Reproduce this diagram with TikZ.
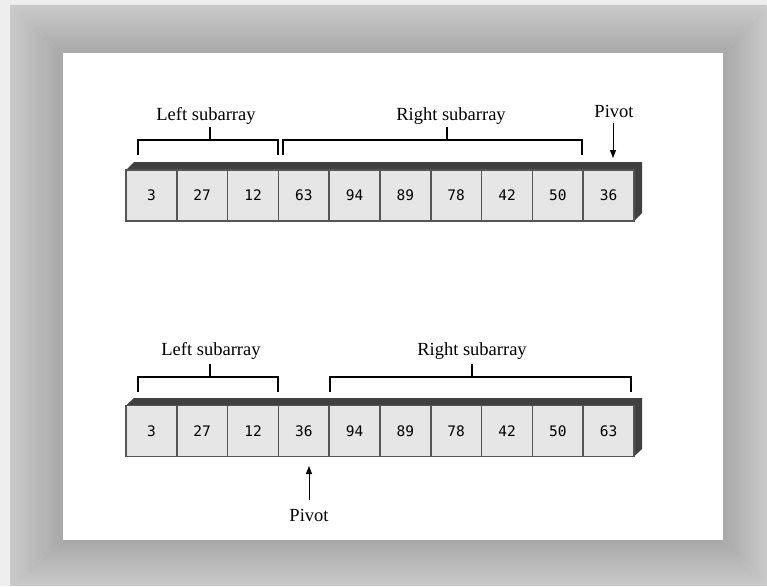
\documentclass[tikz,border=0pt]{standalone}
\usepackage{fontspec}
\setmainfont{Liberation Serif}
\newfontfamily\cellfont{DejaVu Sans Mono}
\usetikzlibrary{arrows.meta}
\definecolor{frameout}{HTML}{CACACA}
\definecolor{framein}{HTML}{A8A8A8}
\definecolor{pagebg}{HTML}{EEEEEE}
\definecolor{cellfill}{HTML}{E6E6E6}
\definecolor{celledge}{HTML}{555555}
\definecolor{boxdark}{HTML}{404040}
\tikzset{
  cellbox/.style={draw=celledge, line width=1.6pt, fill=cellfill, minimum width=50.8pt, minimum height=51pt, inner sep=0pt, text height=10.5pt, text depth=0pt, font=\cellfont\fontsize{14.5}{15}\selectfont},
  lbl/.style={anchor=base, inner sep=0pt, font=\fontsize{18.5}{20}\selectfont},
  brk/.style={line width=1.8pt, line cap=butt, line join=miter},
  parrow/.style={line width=0.9pt, -{Triangle[width=6pt,length=8pt]}}
}
\begin{document}
\begin{tikzpicture}[x=1pt,y=-1pt]
\useasboundingbox (0,0) rectangle (767,586);
% page and frame
\fill[pagebg] (0,0) rectangle (767,586);
\shade[top color=frameout, bottom color=framein] (10,5) -- (767,5) -- (723,53) -- (63,53) -- cycle;
\shade[left color=frameout, right color=framein] (10,5) -- (63,53) -- (63,540) -- (10,586) -- cycle;
\shade[left color=framein, right color=frameout] (767,5) -- (767,586) -- (723,540) -- (723,53) -- cycle;
\shade[top color=framein, bottom color=frameout] (63,540) -- (723,540) -- (767,586) -- (10,586) -- cycle;
\fill[white] (63,53) rectangle (723,540);

% ---------- top array ----------
\fill[boxdark] (126,170) -- (134,162) -- (642,162) -- (642,213) -- (634,221) -- (634,170) -- cycle;
\foreach \v [count=\i from 0] in {3,27,12,63,94,89,78,42,50,36}{
  \node[cellbox] (t\i) at ({126+50.8*(\i+0.5)},195.5) {\v};
}
\node[lbl] (tl) at (206,120) {Left subarray};
\node[lbl] (tr) at (451,120) {Right subarray};
\node[lbl] (tp) at (614,117) {Pivot};
\coordinate (tla) at (138,155);
\coordinate (tlb) at (278,155);
\coordinate (tra) at (283,155);
\coordinate (trb) at (582,155);
\draw[brk] (tla) -- (138,140) -- (278,140) -- (tlb);
\draw[brk] (210,127) -- (210,140);
\draw[brk] (tra) -- (283,140) -- (582,140) -- (trb);
\draw[brk] (447,127) -- (447,140);
\coordinate (tpa) at (613,123);
\coordinate (tpb) at (613,158);
\draw[parrow] (tpa) -- (tpb);

% ---------- bottom array ----------
\fill[boxdark] (126,405.5) -- (134,398) -- (642,398) -- (642,449) -- (634,456.5) -- (634,405.5) -- cycle;
\foreach \v [count=\i from 0] in {3,27,12,36,94,89,78,42,50,63}{
  \node[cellbox] (b\i) at ({126+50.8*(\i+0.5)},431) {\v};
}
\node[lbl] (bl) at (211,355) {Left subarray};
\node[lbl] (br) at (472,355) {Right subarray};
\node[lbl] (bp) at (309,521) {Pivot};
\coordinate (bla) at (138,392);
\coordinate (blb) at (278,392);
\coordinate (bra) at (330,392);
\coordinate (brb) at (631,392);
\draw[brk] (bla) -- (138,377) -- (278,377) -- (blb);
\draw[brk] (210,364) -- (210,377);
\draw[brk] (bra) -- (330,377) -- (631,377) -- (brb);
\draw[brk] (472,364) -- (472,377);
\coordinate (bpa) at (309,500);
\coordinate (bpb) at (309,466);
\draw[parrow] (bpa) -- (bpb);
\end{tikzpicture}
\end{document}
